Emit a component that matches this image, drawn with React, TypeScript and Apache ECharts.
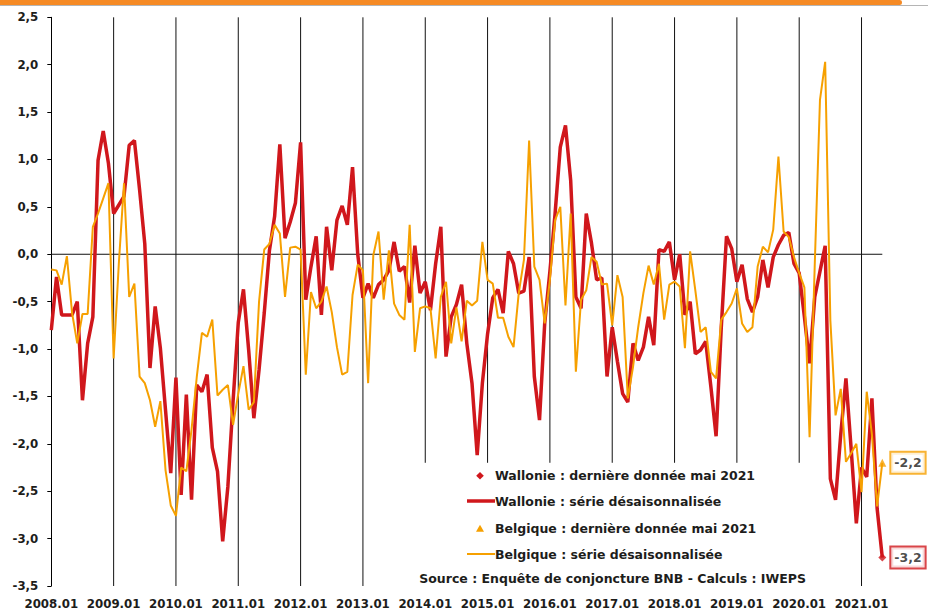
import React, { useEffect, useRef } from "react";
import * as echarts from "echarts";

// ---- data ----
const years = ["2008", "2009", "2010", "2011", "2012", "2013", "2014", "2015", "2016", "2017", "2018", "2019", "2020", "2021"];
const monthCodes = ["01", "02", "03", "04", "05", "06", "07", "08", "09", "10", "11", "12"];
const monthsInLastYear = 5; // data up to 2021.05

const categories: string[] = [];
years.forEach((y, yi) => {
  monthCodes.forEach((m, mi) => {
    if (yi < years.length - 1 || mi < monthsInLastYear) categories.push(`${y}.${m}`);
  });
});

// Wallonie : série désaisonnalisée (2008.01 → 2021.05)
const wallonie = [
  -0.80, -0.24, -0.64, -0.64, -0.64, -0.50, -1.54, -0.94, -0.66, 0.99, 1.30, 0.96,
  0.43, 0.52, 0.61, 1.15, 1.20, 0.68, 0.11, -1.20, -0.55, -0.99, -1.65, -2.31,
  -1.30, -2.54, -1.48, -2.59, -1.38, -1.45, -1.27, -2.04, -2.29, -3.03, -2.45, -1.55,
  -0.72, -0.37, -1.01, -1.73, -1.22, -0.62, 0.04, 0.40, 1.16, 0.17, 0.34, 0.54,
  1.18, -0.48, -0.13, 0.19, -0.64, 0.29, -0.17, 0.36, 0.51, 0.31, 0.92, 0.00,
  -0.46, -0.31, -0.46, -0.32, -0.27, -0.17, 0.13, -0.18, -0.13, -0.51, 0.09, -0.41,
  -0.29, -0.59, -0.10, 0.29, -1.08, -0.66, -0.53, -0.32, -0.94, -1.36, -2.12, -1.36,
  -0.84, -0.46, -0.37, -0.62, 0.03, -0.10, -0.41, -0.39, -0.03, -1.29, -1.75, -0.73,
  -0.18, 0.43, 1.13, 1.36, 0.78, -0.45, -0.57, 0.43, 0.12, -0.27, -0.25, -1.29,
  -0.77, -1.13, -1.47, -1.56, -0.94, -1.12, -0.98, -0.66, -0.96, 0.05, 0.03, 0.13,
  -0.27, 0.00, -0.64, -0.50, -1.05, -1.01, -0.92, -1.40, -1.92, -0.77, 0.19, 0.06,
  -0.29, -0.11, -0.47, -0.61, -0.45, -0.06, -0.35, -0.03, 0.10, 0.20, 0.23, -0.10,
  -0.20, -0.66, -1.15, -0.45, -0.18, 0.09, -2.37, -2.59, -1.90, -1.31, -2.05, -2.84,
  -2.25, -2.35, -1.52, -2.68, -3.2,
];

// Belgique : série désaisonnalisée (2008.01 → 2021.05)
const belgique = [
  -0.16, -0.17, -0.32, -0.02, -0.62, -0.94, -0.63, -0.63, 0.29, 0.43, 0.59, 0.75,
  -1.10, -0.10, 0.75, -0.45, -0.31, -1.29, -1.36, -1.54, -1.82, -1.55, -2.28, -2.65,
  -2.76, -2.25, -2.29, -1.85, -1.30, -0.83, -0.87, -0.69, -1.49, -1.43, -1.38, -1.80,
  -1.47, -1.18, -1.64, -1.56, -0.50, 0.05, 0.11, 0.31, 0.22, -0.45, 0.07, 0.08,
  0.05, -1.27, -0.40, -0.57, -0.50, -0.34, -0.61, -0.98, -1.27, -1.24, -0.43, -0.11,
  -0.17, -1.36, -0.01, 0.24, -0.48, 0.04, -0.52, -0.64, -0.69, 0.31, -1.03, -0.57,
  -0.55, -0.57, -1.10, -0.45, -0.29, -0.94, -0.56, -0.92, -0.49, -0.54, -0.49, 0.13,
  -0.27, -0.31, -0.67, -0.67, -0.87, -0.98, -0.41, -0.06, 1.20, -0.13, -0.27, -0.73,
  -0.27, 0.36, 0.50, -0.54, 0.43, -1.24, -0.48, -0.38, -0.03, -0.08, -0.32, -0.31,
  -0.75, -0.22, -0.45, -1.52, -1.19, -0.77, -0.41, -0.12, -0.32, -0.10, -0.69, -0.32,
  -0.29, -0.34, -0.99, 0.03, -0.38, -0.82, -0.77, -1.24, -1.31, -0.69, -0.61, -0.52,
  -0.36, -0.73, -0.82, -0.77, -0.13, 0.08, 0.02, 0.26, 1.03, 0.24, 0.18, -0.03,
  -0.20, -0.35, -1.93, -0.10, 1.63, 2.03, -0.70, -1.70, -1.42, -2.19, -2.10, -2.00,
  -2.51, -1.45, -1.90, -2.66, -2.2,
];

const legendLabels = [
  "Wallonie : dernière donnée mai 2021",
  "Wallonie : série désaisonnalisée",
  "Belgique : dernière donnée mai 2021",
  "Belgique : série désaisonnalisée",
];
const sourceText = "Source : Enquête de conjoncture BNB - Calculs : IWEPS";

const yMin = -3.5;
const yMax = 2.5;
const yInterval = 0.5;

// vertical year separators
const fullLineCats = ["2009.01", "2010.01", "2011.01", "2012.01", "2013.01", "2021.01"];
const shortLineCats = ["2014.01", "2015.01", "2016.01", "2017.01", "2018.01", "2019.01", "2020.01"];
const shortLineBottom = -2.2;

const RED = "#D0171C";
const ORANGE_LINE = "#F6A000";
const ORANGE_BAR = "#F58A24";
const FONT = "'DejaVu Sans', sans-serif";
const TEXT_COLOR = "#1d1d1b";

const fmt = (v: number) => v.toFixed(1).replace(".", ",");

export default function App() {
  const ref = useRef<HTMLDivElement>(null);

  useEffect(() => {
    document.body.style.margin = "0";
    if (!ref.current) return;
    const chart = echarts.init(ref.current, undefined, { renderer: "svg" });

    const lastIdx = categories.length - 1;
    const lastCat = categories[lastIdx];

    const refLines: number[][] = [];
    fullLineCats.forEach((c) => {
      const i = categories.indexOf(c);
      refLines.push([i, yMax, i, yMin]);
    });
    shortLineCats.forEach((c) => {
      const i = categories.indexOf(c);
      refLines.push([i, yMax, i, shortLineBottom]);
    });
    refLines.push([0, 0, lastIdx, 0]);

    // legend (drawn as graphics so icons match the original)
    const lgX = 467;
    const lgTextX = 495;
    const lgY = [475.7, 501, 528.7, 554];
    const legendText = (t: string, y: number) => ({
      type: "text",
      x: lgTextX,
      y,
      style: {
        text: t,
        fill: TEXT_COLOR,
        font: `bold 12.5px ${FONT}`,
        textAlign: "left",
        textVerticalAlign: "middle",
      },
    });
    const legend = [
      {
        type: "polygon",
        shape: { points: [[480, lgY[0] - 3.8], [483.8, lgY[0]], [480, lgY[0] + 3.8], [476.2, lgY[0]]] },
        style: { fill: RED },
      },
      legendText(legendLabels[0], lgY[0]),
      {
        type: "line",
        shape: { x1: lgX, y1: lgY[1], x2: lgTextX, y2: lgY[1] },
        style: { stroke: RED, lineWidth: 3.5 },
      },
      legendText(legendLabels[1], lgY[1]),
      {
        type: "polygon",
        shape: { points: [[480, lgY[2] - 4], [484, lgY[2] + 3], [476, lgY[2] + 3]] },
        style: { fill: ORANGE_LINE },
      },
      legendText(legendLabels[2], lgY[2]),
      {
        type: "line",
        shape: { x1: lgX, y1: lgY[3], x2: lgTextX, y2: lgY[3] },
        style: { stroke: ORANGE_LINE, lineWidth: 2 },
      },
      legendText(legendLabels[3], lgY[3]),
    ];

    chart.setOption({
      animation: false,
      backgroundColor: "#ffffff",
      textStyle: { fontFamily: FONT },
      grid: { left: 51.3, right: 45.7, top: 17.3, bottom: 25, containLabel: false },
      xAxis: {
        type: "category",
        data: categories,
        boundaryGap: false,
        axisLine: { show: false, onZero: false },
        axisTick: { show: false },
        splitLine: { show: false },
        axisLabel: {
          interval: 11,
          margin: 12,
          color: TEXT_COLOR,
          fontSize: 11.8,
          fontWeight: "bold",
          fontFamily: FONT,
        },
      },
      yAxis: {
        type: "value",
        min: yMin,
        max: yMax,
        interval: yInterval,
        axisLine: { show: true, lineStyle: { color: "#000", width: 1 } },
        axisTick: { show: true, length: 4, lineStyle: { color: "#000" } },
        splitLine: { show: false },
        axisLabel: {
          formatter: (v: number) => fmt(v),
          color: TEXT_COLOR,
          fontSize: 11.8,
          fontWeight: "bold",
          fontFamily: FONT,
          margin: 13,
        },
      },
      graphic: [
        {
          type: "line",
          shape: { x1: 0, y1: 5.5, x2: 928, y2: 5.5 },
          style: { stroke: "#b5b5b5", lineWidth: 1 },
        },
        {
          type: "rect",
          shape: { x: 0, y: 0, width: 902, height: 5, r: [0, 3, 3, 0] },
          style: { fill: ORANGE_BAR },
        },
        ...legend,
        {
          type: "text",
          x: 806,
          y: 578,
          style: {
            text: sourceText,
            fill: TEXT_COLOR,
            font: `bold 12.5px ${FONT}`,
            textAlign: "right",
            textVerticalAlign: "middle",
          },
        },
      ],
      series: [
        {
          type: "custom",
          name: "refLines",
          silent: true,
          z: 1,
          encode: { x: [0, 2], y: [1, 3] },
          data: refLines,
          renderItem: (params: any, api: any) => {
            const p0 = api.coord([api.value(0), api.value(1)]);
            const p1 = api.coord([api.value(2), api.value(3)]);
            return {
              type: "line",
              shape: { x1: p0[0], y1: p0[1], x2: p1[0], y2: p1[1] },
              style: { stroke: "#111", lineWidth: 1 },
            };
          },
        },
        {
          type: "line",
          name: legendLabels[1],
          data: wallonie,
          symbol: "none",
          showSymbol: false,
          z: 3,
          itemStyle: { color: RED },
          lineStyle: { color: RED, width: 3.5 },
        },
        {
          type: "line",
          name: legendLabels[3],
          data: belgique,
          symbol: "none",
          showSymbol: false,
          z: 4,
          itemStyle: { color: ORANGE_LINE },
          lineStyle: { color: ORANGE_LINE, width: 2 },
        },
        {
          type: "scatter",
          name: legendLabels[0],
          data: [[lastCat, wallonie[lastIdx]]],
          symbol: "diamond",
          symbolSize: 8,
          z: 5,
          itemStyle: { color: RED },
          label: {
            show: true,
            position: "right",
            distance: 5,
            formatter: (p: any) => fmt(p.value[1]),
            color: TEXT_COLOR,
            fontSize: 12.5,
            fontWeight: "bold",
            fontFamily: FONT,
            backgroundColor: "#fff",
            borderColor: RED,
            borderWidth: 2,
            padding: [4, 3, 3, 3],
          },
        },
        {
          type: "scatter",
          name: legendLabels[2],
          data: [[lastCat, belgique[lastIdx]]],
          symbol: "triangle",
          symbolSize: 8,
          z: 5,
          itemStyle: { color: ORANGE_LINE },
          label: {
            show: true,
            position: "right",
            distance: 5,
            formatter: (p: any) => fmt(p.value[1]),
            color: TEXT_COLOR,
            fontSize: 12.5,
            fontWeight: "bold",
            fontFamily: FONT,
            backgroundColor: "#fff",
            borderColor: ORANGE_LINE,
            borderWidth: 2,
            padding: [4, 3, 3, 3],
          },
        },
      ],
    });

    return () => chart.dispose();
  }, []);

  return <div ref={ref} style={{ width: 928, height: 611 }} />;
}
